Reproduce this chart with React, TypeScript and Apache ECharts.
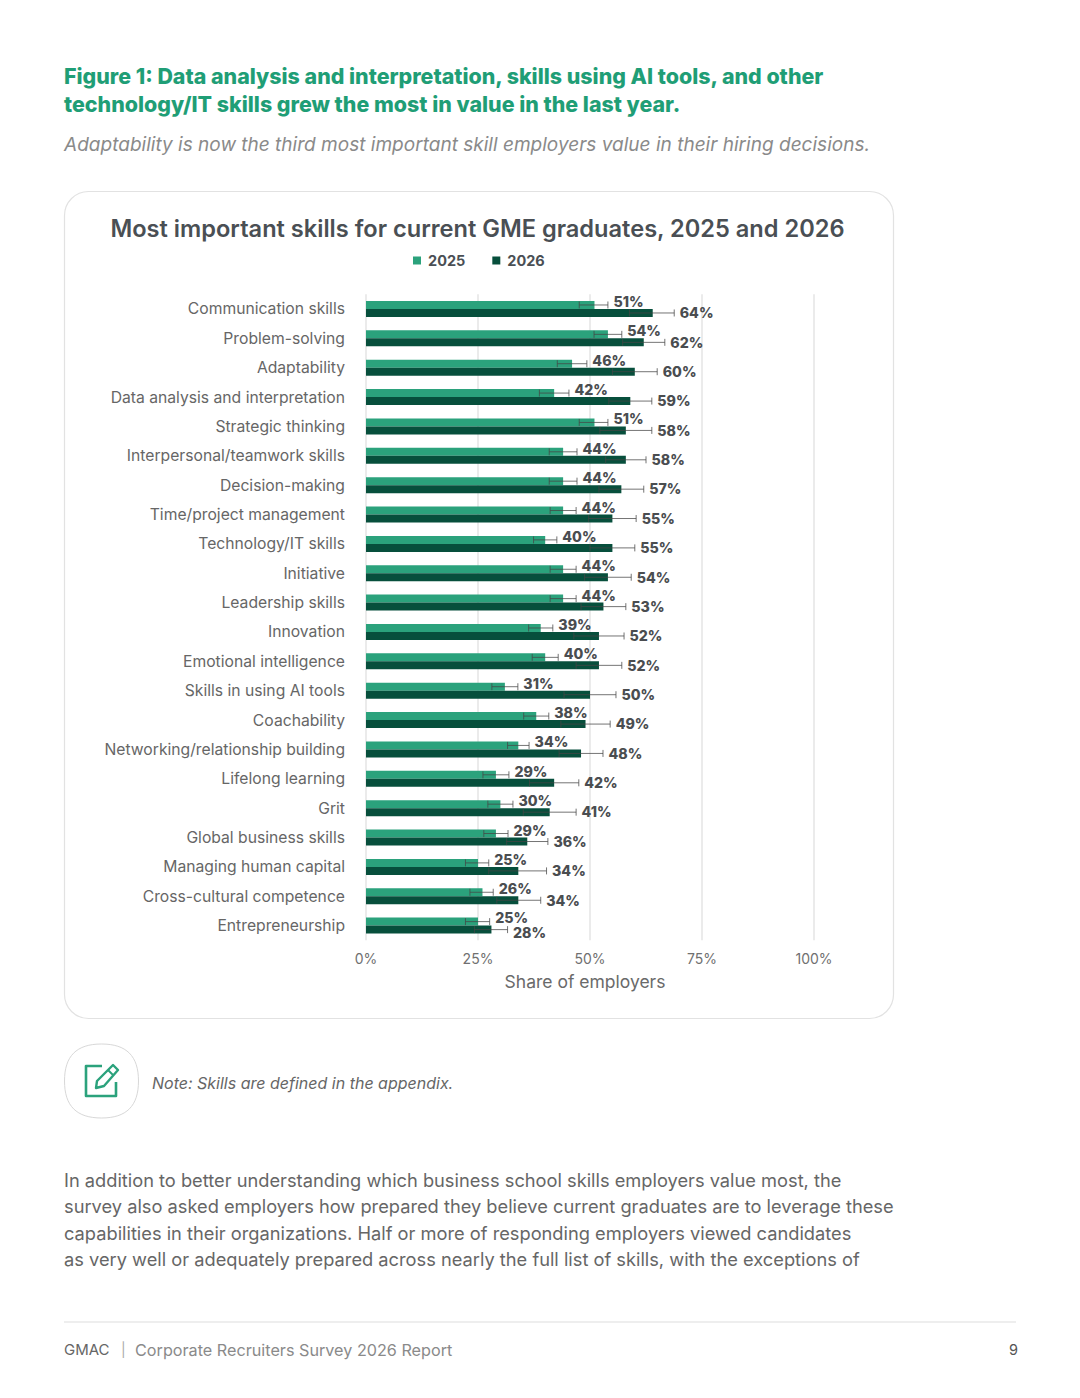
import React, { useEffect, useRef } from "react";
import * as echarts from "echarts";

const FONT = "Inter, 'Open Sans', sans-serif";

const categories = [
  "Communication skills", "Problem-solving", "Adaptability", "Data analysis and interpretation",
  "Strategic thinking", "Interpersonal/teamwork skills", "Decision-making", "Time/project management",
  "Technology/IT skills", "Initiative", "Leadership skills", "Innovation", "Emotional intelligence",
  "Skills in using AI tools", "Coachability", "Networking/relationship building", "Lifelong learning",
  "Grit", "Global business skills", "Managing human capital", "Cross-cultural competence", "Entrepreneurship",
];
const values2025 = [51, 54, 46, 42, 51, 44, 44, 44, 40, 44, 44, 39, 40, 31, 38, 34, 29, 30, 29, 25, 26, 25];
const values2026 = [64, 62, 60, 59, 58, 58, 57, 55, 55, 54, 53, 52, 52, 50, 49, 48, 42, 41, 36, 34, 34, 28];
const low2025 = [47.6, 50.9, 42.7, 38.7, 47.6, 40.9, 40.9, 41.1, 37.4, 41.1, 41.1, 36.3, 37.1, 28.1, 35.2, 31.6, 26.1, 27.2, 26.3, 22.2, 23.2, 22.2];
const high2025 = [54, 57.1, 49.3, 45.3, 54, 47.1, 47.1, 46.9, 42.6, 46.9, 46.9, 41.7, 42.9, 33.9, 40.8, 36.4, 31.9, 32.8, 31.7, 27.4, 28.4, 27.6];
const low2026 = [58.8, 57.3, 55, 54.2, 52.2, 53.5, 52, 49.7, 50, 48.8, 48, 46.4, 46.9, 44.2, 43.5, 43.1, 36.5, 35.1, 31.4, 27.4, 29.2, 24.2];
const high2026 = [68.8, 66.7, 65, 63.8, 63.8, 62.5, 62, 60.3, 60, 59.2, 58, 57.6, 57.1, 55.8, 54.5, 52.9, 47.5, 46.9, 40.6, 40.3, 39, 31.6];
const ticks = [0, 25, 50, 75, 100];

const headingLines = [
  "Figure 1: Data analysis and interpretation, skills using AI tools, and other",
  "technology/IT skills grew the most in value in the last year.",
];
const subheading = "Adaptability is now the third most important skill employers value in their hiring decisions.";
const chartTitle = "Most important skills for current GME graduates, 2025 and 2026";
const noteText = "Note: Skills are defined in the appendix.";
const bodyLines = [
  "In addition to better understanding which business school skills employers value most, the",
  "survey also asked employers how prepared they believe current graduates are to leverage these",
  "capabilities in their organizations. Half or more of responding employers viewed candidates",
  "as very well or adequately prepared across nearly the full list of skills, with the exceptions of",
];

echarts.graphic.registerShape(
  "squircle",
  echarts.graphic.extendPath(
    "M37 0 C12 0 0 12 0 37 C0 62 12 74 37 74 C62 74 74 62 74 37 C74 12 62 0 37 0 Z",
    {}
  )
);

const lastRow = categories.length - 1;

const errorSeries = (
  name: string,
  lows: number[],
  highs: number[],
  vals: number[],
  dir: number,
  labelDy: number,
  lastRowDy: number
) => ({
  type: "custom",
  name,
  z: 5,
  silent: true,
  clip: false,
  encode: { x: [0, 1], y: 3 },
  data: lows.map((l, i) => [l, highs[i], vals[i], i]),
  renderItem: (_: any, api: any) => {
    const idx = api.value(3);
    const a = api.coord([api.value(0), idx]);
    const b = api.coord([api.value(1), idx]);
    const y = a[1] + dir * 4;
    const stroke = "rgba(70,70,70,0.75)";
    const line = (x1: number, y1: number, x2: number, y2: number) => ({
      type: "line",
      shape: { x1, y1, x2, y2 },
      style: { stroke, lineWidth: 1, fill: "none" },
    });
    return {
      type: "group",
      children: [
        line(a[0], y, b[0], y),
        line(a[0], y - 3.5, a[0], y + 3.5),
        line(b[0], y - 3.5, b[0], y + 3.5),
        {
          type: "text",
          x: b[0] + 5.5,
          y: y + (idx === lastRow ? lastRowDy : labelDy),
          style: {
            text: api.value(2) + "%",
            fontFamily: FONT,
            fontWeight: 800,
            fontSize: 14.2,
            fill: "#4a4d50",
            align: "left",
            verticalAlign: "middle",
          },
        },
      ],
    };
  },
});

const txt = (text: string, x: number, y: number, fontSize: number, fill: string, extra: any = {}) => ({
  type: "text",
  x,
  y,
  silent: true,
  style: { text, fontSize, fill, fontFamily: FONT, verticalAlign: "middle", ...extra },
});

export default function App() {
  const ref = useRef<HTMLDivElement>(null);
  useEffect(() => {
    const chart = echarts.init(ref.current!, undefined, { renderer: "svg" });
    chart.setOption({
      animation: false,
      backgroundColor: "#ffffff",
      title: {
        text: chartTitle,
        left: 472.5,
        top: 211,
        textAlign: "center",
        textStyle: { fontFamily: FONT, fontSize: 23.6, fontWeight: 600, color: "#4a4f54" },
      },
      legend: {
        data: ["2025", "2026"],
        left: 413,
        top: 253,
        padding: 0,
        itemWidth: 8,
        itemHeight: 8,
        itemGap: 27,
        icon: "rect",
        textStyle: { fontFamily: FONT, fontSize: 14.5, fontWeight: 700, color: "#4a4f54", padding: [0, 0, 0, 2] },
      },
      grid: { left: 366, top: 294.3, width: 448, height: 646, containLabel: false },
      xAxis: {
        type: "value",
        min: 0,
        max: 100,
        interval: 25,
        axisLine: { show: false },
        axisTick: { show: false },
        axisLabel: {
          color: "#707070",
          fontFamily: FONT,
          fontSize: 14,
          margin: 11,
          formatter: (v: number) => (ticks.includes(v) ? v + "%" : ""),
        },
        splitLine: { show: true, lineStyle: { color: "#e4e4e4", width: 1.5 } },
        name: "Share of employers",
        nameLocation: "middle",
        nameGap: 32,
        nameTextStyle: { color: "#6a6a6a", fontFamily: FONT, fontSize: 17.5, padding: [0, 10, 0, 0] },
      },
      yAxis: {
        type: "category",
        inverse: true,
        data: categories,
        axisLine: { show: false },
        axisTick: { show: false },
        axisLabel: { color: "#666666", fontFamily: FONT, fontSize: 15.7, margin: 21, padding: [0, 0, 2, 0] },
      },
      series: [
        { type: "bar", name: "2025", data: values2025, barWidth: 8, barGap: "0%", itemStyle: { color: "#2ba27c" } },
        { type: "bar", name: "2026", data: values2026, barWidth: 8, barGap: "0%", itemStyle: { color: "#074f3c" } },
        errorSeries("2025 range", low2025, high2025, values2025, -1, -3.5, -4.5),
        errorSeries("2026 range", low2026, high2026, values2026, 1, -0.2, 2.5),
      ],
      graphic: [
        ...headingLines.map((t, i) => txt(t, 64, 75.5 + i * 28, 21.4, "#1f9e76", { fontWeight: 800 })),
        txt(subheading, 64, 144, 19.05, "#8a8a8a", { fontStyle: "italic" }),
        {
          type: "rect",
          z: -1,
          silent: true,
          shape: { x: 64.5, y: 191.5, width: 829, height: 827, r: 24 },
          style: { fill: "none", stroke: "#e2e2e2", lineWidth: 1.2 },
        },
        { type: "squircle", x: 64.5, y: 1044, silent: true, style: { fill: "#fff", stroke: "#d8d8d8", lineWidth: 1 } },
        {
          type: "polyline",
          silent: true,
          shape: { points: [[102, 1066], [86, 1066], [86, 1096], [116, 1096], [116, 1082]] },
          style: { stroke: "#2ba27c", lineWidth: 2.6, fill: "none", lineJoin: "round" },
        },
        {
          type: "polygon",
          silent: true,
          shape: { points: [[113, 1065], [118, 1070], [104, 1086], [96, 1088], [97, 1081]] },
          style: { stroke: "#2ba27c", lineWidth: 2.4, fill: "none", lineJoin: "round" },
        },
        {
          type: "line",
          silent: true,
          shape: { x1: 108, y1: 1070, x2: 113, y2: 1075 },
          style: { stroke: "#2ba27c", lineWidth: 2 },
        },
        txt(noteText, 152, 1083, 16, "#666666", { fontStyle: "italic" }),
        ...bodyLines.map((t, i) => txt(t, 64, 1180 + i * 26.4, 18.25, "#666666")),
        {
          type: "line",
          silent: true,
          shape: { x1: 64, y1: 1322, x2: 1016, y2: 1322 },
          style: { stroke: "#dddddd", lineWidth: 1 },
        },
        txt("GMAC", 64, 1349.5, 15, "#666666"),
        txt("|", 121, 1349, 14, "#aaaaaa"),
        txt("Corporate Recruiters Survey 2026 Report", 135, 1349.5, 16.2, "#8a8a8a"),
        txt("9", 1018, 1349.5, 14.5, "#555555", { align: "right" }),
      ],
    });
    return () => chart.dispose();
  }, []);
  return <div ref={ref} style={{ position: "absolute", left: 0, top: 0, width: 1080, height: 1398 }} />;
}
